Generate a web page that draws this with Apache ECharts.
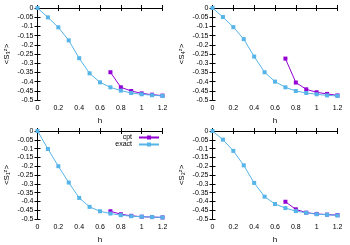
<!DOCTYPE html>
<html><head><meta charset="utf-8">
<script src="https://cdn.jsdelivr.net/npm/echarts@6/dist/echarts.min.js"></script>
<style>html,body{margin:0;padding:0;background:#fff}#c{width:350px;height:245px}</style>
</head><body><div id="c"></div>
<script>
const hExact = [0, 0.1, 0.2, 0.3, 0.4, 0.5, 0.6, 0.7, 0.8, 0.9, 1.0, 1.1, 1.2];
const hCpt = [0.7, 0.8, 0.9, 1.0, 1.1, 1.2];
const xTicks = [0, 0.2, 0.4, 0.6, 0.8, 1, 1.2];
const exactS3 = [0, -0.051, -0.105, -0.176, -0.273, -0.355, -0.404, -0.431, -0.449, -0.462, -0.469, -0.474, -0.478];
const cptS3 = [-0.349, -0.431, -0.451, -0.464, -0.471, -0.476];
const exactS4 = [0, -0.049, -0.104, -0.169, -0.264, -0.349, -0.400, -0.431, -0.451, -0.462, -0.469, -0.475, -0.478];
const cptS4 = [-0.275, -0.405, -0.442, -0.458, -0.467, -0.475];
const exactS1 = [0, -0.102, -0.200, -0.293, -0.380, -0.431, -0.456, -0.469, -0.478, -0.484, -0.487, -0.489, -0.491];
const cptS1 = [-0.456, -0.473, -0.482, -0.487, -0.489, -0.491];
const exactS2 = [0, -0.049, -0.113, -0.195, -0.295, -0.373, -0.415, -0.438, -0.455, -0.465, -0.473, -0.476, -0.480];
const cptS2 = [-0.402, -0.445, -0.464, -0.471, -0.475, -0.478];
const panelNames = ['<S₃ᶻ>', '<S₄ᶻ>', '<S₁ᶻ>', '<S₂ᶻ>'];

const FONT = 'Liberation Sans';
const CPT = '#9400d3', EXACT = '#56b4e9';
const panels = [
  {left: 37.5, top: 8, h: 92, ex: exactS3, cp: cptS3},
  {left: 212.5, top: 8, h: 92, ex: exactS4, cp: cptS4},
  {left: 37.5, top: 131, h: 91, ex: exactS1, cp: cptS1},
  {left: 212.5, top: 131, h: 91, ex: exactS2, cp: cptS2}
];
const grid = [], xAxis = [], yAxis = [], series = [];
const lineAx = {show: true, lineStyle: {color: '#000', width: 1}};
const tickAx = {show: true, inside: true, length: 3, lineStyle: {color: '#000', width: 1}};
const lbl = {fontFamily: FONT, fontSize: 7, color: '#000'};
panels.forEach((p, i) => {
  grid.push({left: p.left, top: p.top, width: 125, height: p.h});
  xAxis.push({type: 'value', gridIndex: i, min: 0, max: 1.2, interval: 0.2, position: 'bottom',
    name: 'h', nameLocation: 'middle', nameGap: 17, nameTextStyle: {fontFamily: FONT, fontSize: 8, color: '#000'},
    axisLine: lineAx, axisTick: tickAx, splitLine: {show: false},
    axisLabel: Object.assign({margin: 5, formatter: v => { const t = xTicks.find(x => Math.abs(x - v) < 1e-6); return t === undefined ? '' : String(t); }}, lbl)});
  xAxis.push({type: 'value', gridIndex: i, min: 0, max: 1.2, interval: 0.2, position: 'top',
    axisLine: lineAx, axisTick: tickAx, splitLine: {show: false}, axisLabel: {show: false}});
  yAxis.push({type: 'value', gridIndex: i, min: -0.5, max: 0, interval: 0.05, position: 'left',
    name: panelNames[i], nameLocation: 'middle', nameGap: 27, nameRotate: 90,
    nameTextStyle: {fontFamily: FONT, fontSize: 8, color: '#000'},
    axisLine: lineAx, axisTick: tickAx, splitLine: {show: false},
    axisLabel: Object.assign({margin: 4, formatter: v => { const r = Math.round(v * 100) / 100; return r === 0 ? '0' : String(r); }}, lbl)});
  yAxis.push({type: 'value', gridIndex: i, min: -0.5, max: 0, interval: 0.05, position: 'right',
    axisLine: lineAx, axisTick: tickAx, splitLine: {show: false}, axisLabel: {show: false}});
  series.push({name: 'exact', type: 'line', xAxisIndex: 2 * i, yAxisIndex: 2 * i,
    data: hExact.map((h, k) => [h, p.ex[k]]), symbol: 'rect', symbolSize: 4, showAllSymbol: true,
    lineStyle: {color: EXACT, width: 1}, itemStyle: {color: EXACT}, z: 2, animation: false});
  series.push({name: 'cpt', type: 'line', xAxisIndex: 2 * i, yAxisIndex: 2 * i,
    data: hCpt.map((h, k) => [h, p.cp[k]]), symbol: 'rect', symbolSize: 4, showAllSymbol: true,
    lineStyle: {color: CPT, width: 1}, itemStyle: {color: CPT}, z: 1, animation: false});
});
const legendBase = {orient: 'vertical', align: 'right', right: 350 - 160, itemWidth: 20, itemHeight: 5, itemGap: 2,
  textStyle: {fontFamily: FONT, fontSize: 7, color: '#000', padding: [0, 2, 0, 0]}, padding: 0};
const chart = echarts.init(document.getElementById('c'), null, {renderer: 'canvas'});
chart.setOption({
  animation: false,
  grid, xAxis, yAxis, series,
  legend: [
    Object.assign({data: ['cpt'], top: 134}, legendBase),
    Object.assign({data: ['exact'], top: 141}, legendBase)
  ]
});
</script></body></html>
